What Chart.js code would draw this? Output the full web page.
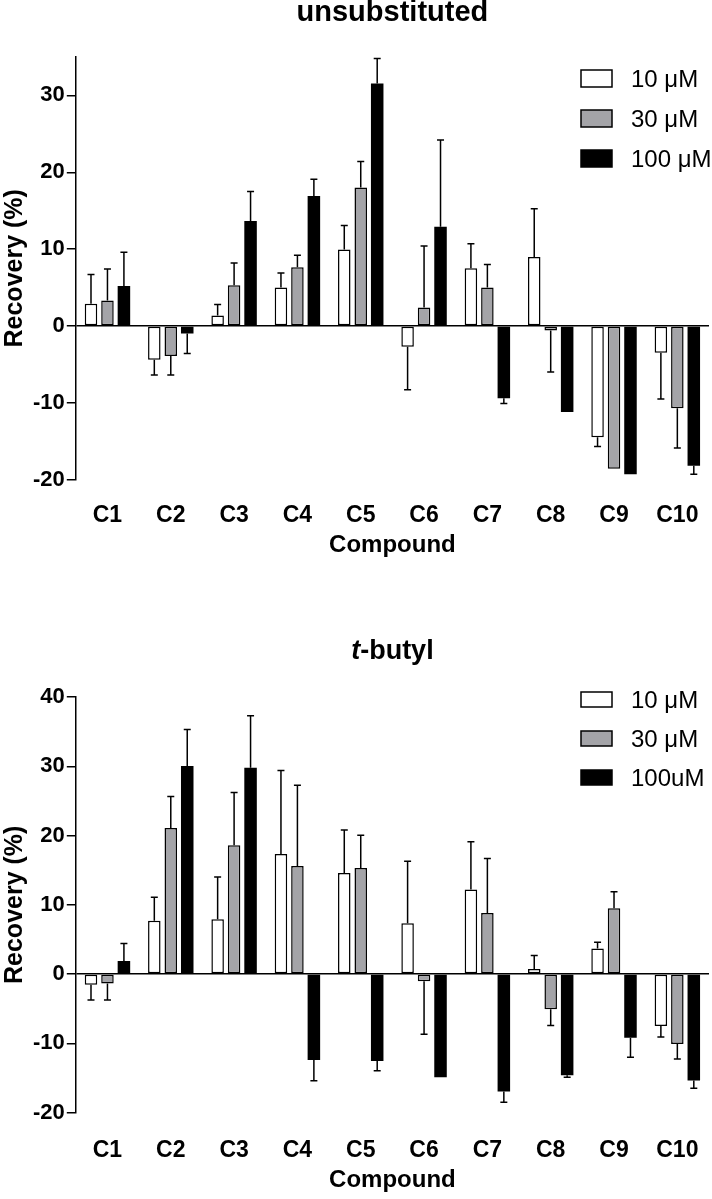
<!DOCTYPE html>
<html>
<head>
<meta charset="utf-8">
<script src="https://cdn.jsdelivr.net/npm/chart.js@4/dist/chart.umd.min.js"></script>
<style>
  html, body { margin: 0; padding: 0; background: #fff; }
  canvas { display: block; }
</style>
</head>
<body>
<canvas id="unsubChart" width="712" height="590"></canvas>
<canvas id="butylChart" width="712" height="609"></canvas>
<script>
const compounds = ["C1", "C2", "C3", "C4", "C5", "C6", "C7", "C8", "C9", "C10"];
const yTicks = [-20, -10, 0, 10, 20, 30, 40];

// unsubstituted
const unsub10 = [2.9, -4.4, 1.35, 5.0, 9.96, -2.7, 7.5, 8.96, -14.5, -3.5];
const unsub10Err = [3.8, 2.0, 1.45, 1.9, 3.1, 5.6, 3.2, 6.3, 1.2, 6.0];
const unsub30 = [3.3, -3.9, 5.3, 7.65, 18.0, 2.4, 5.0, -0.6, -18.6, -10.7];
const unsub30Err = [4.1, 2.5, 2.9, 1.55, 3.4, 8.0, 3.0, 5.4, 0, 5.2];
const unsub100 = [5.2, -1.0, 13.65, 16.9, 31.55, 12.9, -9.4, -11.2, -19.3, -18.2];
const unsub100Err = [4.4, 2.6, 3.85, 2.2, 3.25, 11.3, 0.7, 0, 0, 1.1];

// t-butyl
const butyl10 = [-1.55, 7.7, 7.9, 17.35, 14.6, 7.35, 12.2, 0.73, 3.7, -7.5];
const butyl10Err = [2.2, 3.4, 6.1, 12.05, 6.2, 8.95, 6.9, 1.95, 0.9, 1.6];
const butyl30 = [-1.35, 21.1, 18.6, 15.6, 15.3, -1.05, 8.8, -5.07, 9.5, -10.1];
const butyl30Err = [2.4, 4.55, 7.6, 11.65, 4.75, 7.65, 7.9, 2.35, 2.4, 2.15];
const butyl100 = [1.9, 30.05, 29.8, -12.4, -12.55, -14.9, -16.95, -14.6, -9.2, -15.35];
const butyl100Err = [2.5, 5.25, 7.5, 3.0, 1.4, 0, 1.55, 0.3, 2.8, 1.15];

const white = "#ffffff";
const grey = "#a4a4a8";
const black = "#000000";
const fontFamily = "'Liberation Sans', Arial, Helvetica, sans-serif";

Chart.defaults.font.family = fontFamily;
Chart.defaults.color = "#000";

// one-sided error bars, drawn away from zero
const errorBars = {
  id: "errorBars",
  afterDatasetsDraw(chart, args, opts) {
    const { ctx } = chart;
    const y = chart.scales.y;
    ctx.save();
    ctx.strokeStyle = "#000";
    ctx.lineWidth = 1.5;
    chart.data.datasets.forEach((ds, i) => {
      const meta = chart.getDatasetMeta(i);
      meta.data.forEach((bar, j) => {
        const v = ds.data[j];
        const e = opts.errors[i][j];
        if (!e) return;
        const end = y.getPixelForValue(v + Math.sign(v) * e);
        ctx.beginPath();
        ctx.moveTo(bar.x, bar.y);
        ctx.lineTo(bar.x, end);
        ctx.moveTo(bar.x - 3.5, end);
        ctx.lineTo(bar.x + 3.5, end);
        ctx.stroke();
      });
    });
    ctx.restore();
  },
};

// legend boxes inside the plot, top right
const boxLegend = {
  id: "boxLegend",
  afterDraw(chart, args, opts) {
    const { ctx } = chart;
    ctx.save();
    ctx.font = "24px " + fontFamily;
    ctx.textBaseline = "middle";
    chart.data.datasets.forEach((ds, i) => {
      const top = opts.rows[i];
      ctx.fillStyle = ds.backgroundColor;
      ctx.fillRect(opts.x, top, 31, opts.boxH);
      ctx.strokeStyle = "#000";
      ctx.lineWidth = 1.5;
      ctx.strokeRect(opts.x, top, 31, opts.boxH);
      ctx.fillStyle = "#000";
      ctx.fillText(ds.label, opts.x + 50, top + opts.boxH / 2 + 1.5);
    });
    ctx.restore();
  },
};

// title centred over the plot area
const plotTitle = {
  id: "plotTitle",
  afterDraw(chart, args, opts) {
    const { ctx, chartArea } = chart;
    const cx = (chartArea.left + chartArea.right) / 2;
    ctx.save();
    ctx.textBaseline = "middle";
    ctx.fillStyle = "#000";
    const fontOf = (p) => (p.italic ? "italic " : "") + "bold " + opts.size + "px " + fontFamily;
    const widths = opts.parts.map((p) => {
      ctx.font = fontOf(p);
      return ctx.measureText(p.text).width;
    });
    let x = cx - widths.reduce((a, b) => a + b, 0) / 2;
    opts.parts.forEach((p, k) => {
      ctx.font = fontOf(p);
      ctx.fillText(p.text, x, opts.y);
      x += widths[k];
    });
    ctx.restore();
  },
};

function makeChart(id, cfg) {
  const datasets = [
    { label: cfg.labels[0], data: cfg.series[0], backgroundColor: white, borderColor: black, borderWidth: 1.5 },
    { label: cfg.labels[1], data: cfg.series[1], backgroundColor: grey, borderColor: black, borderWidth: 1.5 },
    { label: cfg.labels[2], data: cfg.series[2], backgroundColor: black, borderColor: black, borderWidth: 0 },
  ];
  return new Chart(document.getElementById(id), {
    type: "bar",
    data: { labels: compounds, datasets: datasets },
    plugins: [errorBars, boxLegend, plotTitle],
    options: {
      responsive: false,
      animation: false,
      devicePixelRatio: 1,
      layout: { padding: cfg.padding },
      datasets: {
        bar: { categoryPercentage: 0.78, barPercentage: 0.76, borderSkipped: false },
      },
      plugins: {
        legend: { display: false },
        tooltip: { enabled: false },
        errorBars: { errors: cfg.errors },
        boxLegend: cfg.legend,
        plotTitle: cfg.title,
      },
      scales: {
        x: {
          grid: {
            display: true,
            drawOnChartArea: false,
            drawTicks: true,
            tickLength: cfg.xTick,
            color: "rgba(0,0,0,0)",
            tickColor: "rgba(0,0,0,0)",
          },
          border: { display: false },
          ticks: { padding: 2, font: { size: 23, weight: "bold" }, color: "#000" },
          title: {
            display: true,
            text: "Compound",
            font: { size: 24, weight: "bold" },
            color: "#000",
            padding: { top: 0, bottom: 0 },
          },
        },
        y: {
          min: cfg.min,
          max: cfg.max,
          afterBuildTicks: (scale) => {
            scale.ticks = yTicks.filter((v) => v >= cfg.min && v <= cfg.max).map((v) => ({ value: v }));
          },
          grid: {
            drawTicks: true,
            tickLength: 9,
            tickColor: "#000",
            tickWidth: 1.5,
            lineWidth: 1.5,
            color: (c) => (c.tick && c.tick.value === 0 ? "#000" : "rgba(0,0,0,0)"),
          },
          border: { display: true, color: "#000", width: 1.5 },
          ticks: { padding: 2, font: { size: 22, weight: "bold" }, color: "#000" },
          title: {
            display: true,
            text: "Recovery (%)",
            font: { size: 25, weight: "bold" },
            color: "#000",
            padding: { top: 0, bottom: 1 },
          },
        },
      },
    },
  });
}

makeChart("unsubChart", {
  labels: ["10 μM", "30 μM", "100 μM"],
  series: [unsub10, unsub30, unsub100],
  errors: [unsub10Err, unsub30Err, unsub100Err],
  min: -20,
  max: 35,
  xTick: 20,
  padding: { top: 57, left: 0, right: 3, bottom: 30 },
  legend: { x: 581, rows: [70, 110, 150], boxH: 17 },
  title: { y: 13, size: 29, parts: [{ text: "unsubstituted" }] },
});

makeChart("butylChart", {
  labels: ["10 μM", "30 μM", "100uM"],
  series: [butyl10, butyl30, butyl100],
  errors: [butyl10Err, butyl30Err, butyl100Err],
  min: -20,
  max: 40,
  xTick: 22,
  padding: { top: 107, left: 0, right: 3, bottom: 4 },
  legend: { x: 581, rows: [102, 141, 180], boxH: 15 },
  title: { y: 62, size: 27, parts: [{ text: "t", italic: true }, { text: "-butyl" }] },
});
</script>
</body>
</html>
